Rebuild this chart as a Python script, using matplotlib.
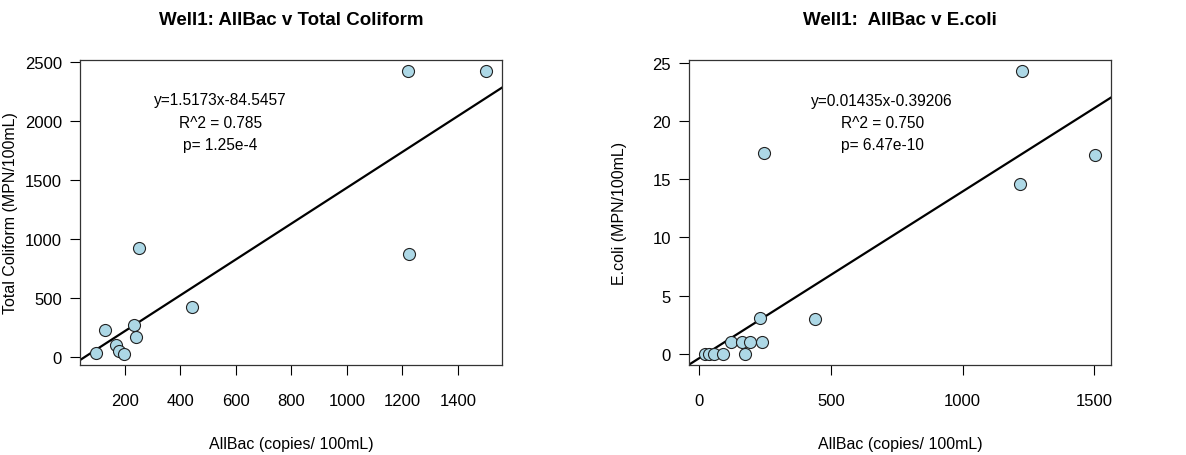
import numpy as np
import matplotlib
matplotlib.use("Agg")
import matplotlib.pyplot as plt

plt.rcParams['font.family'] = ['Liberation Sans', 'DejaVu Sans']

# Well1: AllBac vs Total Coliform
tc_allbac = [95, 127, 169, 178, 198, 232, 240, 250, 444, 1221, 1225, 1503]
tc_value = [34, 227, 99, 51, 28, 270, 170, 920, 420, 2419.6, 872, 2419.6]
tc_slope, tc_icept = 1.5173, -84.5457
tc_text = "y=1.5173x-84.5457\nR^2 = 0.785\np= 1.25e-4"

# Well1: AllBac vs E.coli
ec_allbac = [21, 38, 55, 91, 121, 164, 176, 195, 232, 237, 248, 438, 1219, 1226, 1504]
ec_value = [0, 0, 0, 0, 1, 1, 0, 1, 3.1, 1, 17.3, 3.0, 14.6, 24.3, 17.1]
ec_slope, ec_icept = 0.01435, -0.39206
ec_text = "y=0.01435x-0.39206\nR^2 = 0.750\np= 6.47e-10"

fig = plt.figure(figsize=(11.86, 4.56), dpi=100)
ax1 = fig.add_axes([80 / 1186, 1 - 366 / 456, 422 / 1186, 305 / 456])
ax2 = fig.add_axes([689 / 1186, 1 - 366 / 456, 422 / 1186, 305 / 456])


def panel(ax, x, y, slope, icept, txt, txt_xy, title, ylab, xticks, yticks):
    x = np.array(x)
    y = np.array(y)
    xr = x.max() - x.min()
    yr = y.max() - y.min()
    xlim = (x.min() - 0.04 * xr, x.max() + 0.04 * xr)
    ylim = (y.min() - 0.04 * yr, y.max() + 0.04 * yr)
    ax.scatter(x, y, s=75, c='lightblue', edgecolors='#222222', linewidths=0.8, zorder=3)
    xx = np.array(xlim)
    ax.plot(xx, slope * xx + icept, color='black', lw=1.6, zorder=2)
    ax.set_xlim(xlim)
    ax.set_ylim(ylim)
    ax.set_xticks(xticks)
    ax.set_yticks(yticks)
    ax.tick_params(direction='out', length=7, width=0.8, labelsize=12, pad=6)
    ax.tick_params(axis='x', pad=13)
    for s in ax.spines.values():
        s.set_linewidth(0.9)
        s.set_color('#333333')
    ax.text(txt_xy[0], txt_xy[1], txt, ha='center', va='center', fontsize=11.2,
            linespacing=1.6, multialignment='center')
    ax.set_title(title, fontsize=13.5, fontweight='bold', pad=26)
    ax.set_xlabel("AllBac (copies/ 100mL)", fontsize=11.5, labelpad=20)
    ax.set_ylabel(ylab, fontsize=11.5)
    ax.yaxis.set_label_coords(-0.148, 0.5)


panel(ax1, tc_allbac, tc_value, tc_slope, tc_icept, tc_text, (545, 1990),
      "Well1: AllBac v Total Coliform", "Total Coliform (MPN/100mL)",
      [200, 400, 600, 800, 1000, 1200, 1400], [0, 500, 1000, 1500, 2000, 2500])
panel(ax2, ec_allbac, ec_value, ec_slope, ec_icept, ec_text, (695, 19.9),
      "Well1:  AllBac v E.coli", "E.coli (MPN/100mL)",
      [0, 500, 1000, 1500], [0, 5, 10, 15, 20, 25])

fig.savefig("out.png", dpi=100)
